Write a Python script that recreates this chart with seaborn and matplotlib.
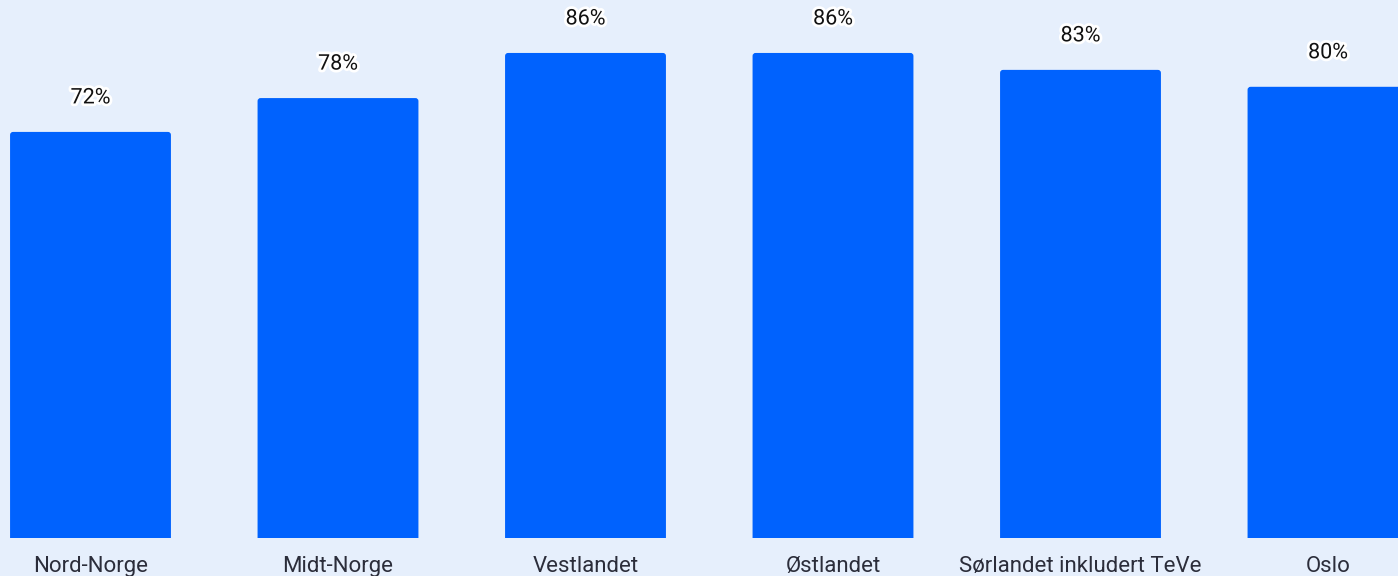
import matplotlib
matplotlib.use("Agg")
import matplotlib.pyplot as plt
import matplotlib.patheffects as pe
from matplotlib.patches import FancyBboxPatch
import seaborn as sns
import pandas as pd

categories = ["Nord-Norge", "Midt-Norge", "Vestlandet", "Østlandet",
              "Sørlandet inkludert TeVe", "Oslo"]
values = [72, 78, 86, 86, 83, 80]
value_labels = ["72%", "78%", "86%", "86%", "83%", "80%"]

BG = "#E6EFFC"
BAR = "#0062FE"

sns.set_theme(style="white")
plt.rcParams["font.family"] = ["Roboto", "DejaVu Sans"]

df = pd.DataFrame({"region": categories, "value": values})

fig = plt.figure(figsize=(13.98, 5.76), dpi=100, facecolor=BG)
ax = fig.add_axes([0, 38 / 576, 1, 538 / 576])
ax.set_facecolor(BG)

sns.barplot(data=df, x="region", y="value", color=BAR, width=0.65,
            saturation=1, ax=ax, order=categories, linewidth=0)

ax.set_xlim(-90.5 / 247.5, (1398 - 90.5) / 247.5)
ax.set_ylim(0, 538 / 5.64)

# rounded top corners
px_x = 1 / 247.5
px_y = 1 / 5.64
for p in list(ax.patches):
    x, y = p.get_xy()
    w, h = p.get_width(), p.get_height()
    p.remove()
    fb = FancyBboxPatch((x, y - 2), w, h + 2,
                        boxstyle=f"round,pad=0,rounding_size={3 * px_x}",
                        mutation_aspect=px_y / px_x,
                        facecolor=BAR, edgecolor="none", linewidth=0)
    ax.add_patch(fb)

for i, (v, lab) in enumerate(zip(values, value_labels)):
    ax.text(i, v + 34 / 5.64, lab, ha="center", va="center", fontsize=15.5,
            color="#111111",
            path_effects=[pe.withStroke(linewidth=4, foreground="white")])

ax.set_xlabel("")
ax.set_ylabel("")
ax.set_yticks([])
ax.tick_params(axis="x", length=0, pad=13, labelsize=16, labelcolor="#2B2D3A")
for s in ax.spines.values():
    s.set_visible(False)

fig.savefig("out.png", dpi=100, facecolor=BG)
